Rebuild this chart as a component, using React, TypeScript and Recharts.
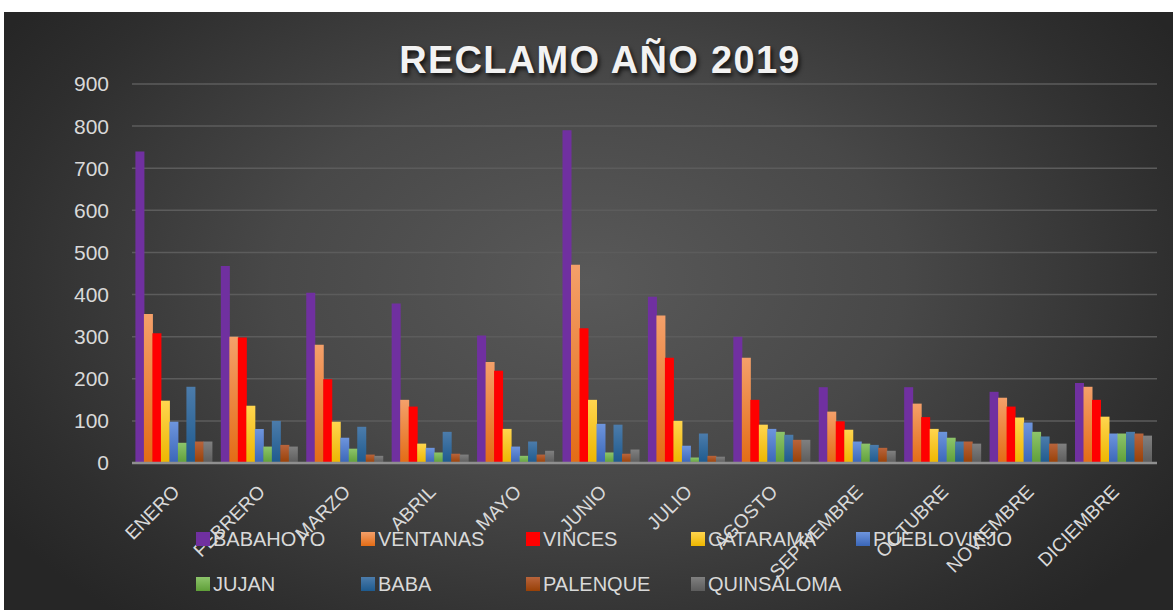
import * as React from "react";
import { BarChart, Bar, XAxis, YAxis, CartesianGrid } from "recharts";

const months = [
  "ENERO",
  "FEBRERO",
  "MARZO",
  "ABRIL",
  "MAYO",
  "JUNIO",
  "JULIO",
  "AGOSTO",
  "SEPTIEMBRE",
  "OCTUBRE",
  "NOVIEMBRE",
  "DICIEMBRE",
];

const babahoyo = [740, 468, 404, 379, 303, 790, 395, 300, 180, 180, 169, 190];
const ventanas = [354, 300, 281, 150, 240, 471, 350, 250, 122, 141, 155, 181];
const vinces = [308, 298, 199, 134, 219, 320, 250, 150, 99, 109, 134, 150];
const catarama = [148, 136, 98, 46, 81, 150, 100, 91, 79, 81, 108, 110];
const puebloviejo = [98, 81, 60, 36, 39, 93, 41, 81, 51, 74, 96, 70];
const jujan = [48, 39, 34, 25, 17, 25, 13, 74, 46, 60, 74, 70];
const baba = [181, 100, 86, 74, 51, 91, 70, 67, 43, 51, 63, 74];
const palenque = [51, 43, 20, 22, 20, 22, 17, 55, 36, 51, 46, 70];
const quinsaloma = [51, 39, 17, 20, 29, 32, 15, 55, 29, 46, 46, 65];

const yTicks = [0, 100, 200, 300, 400, 500, 600, 700, 800, 900];

type Series = { key: string; name: string; values: number[]; top: string; bottom: string };

const series: Series[] = [
  { key: "babahoyo", name: "BABAHOYO", values: babahoyo, top: "#7030A0", bottom: "#7030A0" },
  { key: "ventanas", name: "VENTANAS", values: ventanas, top: "#F4A06A", bottom: "#E36C15" },
  { key: "vinces", name: "VINCES", values: vinces, top: "#FF0000", bottom: "#FF0000" },
  { key: "catarama", name: "CATARAMA", values: catarama, top: "#FFD54F", bottom: "#EDB600" },
  { key: "puebloviejo", name: "PUEBLOVIEJO", values: puebloviejo, top: "#6E95DD", bottom: "#3A66B8" },
  { key: "jujan", name: "JUJAN", values: jujan, top: "#8DC46B", bottom: "#5F9F38" },
  { key: "baba", name: "BABA", values: baba, top: "#4C7CAB", bottom: "#1E5A8E" },
  { key: "palenque", name: "PALENQUE", values: palenque, top: "#B8643C", bottom: "#984006" },
  { key: "quinsaloma", name: "QUINSALOMA", values: quinsaloma, top: "#808080", bottom: "#5C5C5C" },
];

const rows = months.map((m, i) => {
  const row: Record<string, string | number> = { month: m };
  for (const s of series) row[s.key] = s.values[i]!;
  return row;
});

const FONT = "'Liberation Sans', Arial, sans-serif";
const TEXT = "#d9d9d9";

function MonthTick(props: any) {
  const { x, y, payload } = props;
  const tx = x + 6;
  const ty = y + 30;
  return (
    <text
      x={tx}
      y={ty}
      textAnchor="end"
      fill={TEXT}
      fontSize={19}
      fontFamily={FONT}
      transform={`rotate(-45 ${tx} ${ty})`}
    >
      {payload.value}
    </text>
  );
}

function LegendBox() {
  return (
    <div
      style={{
        position: "absolute",
        left: 192,
        top: 516,
        width: 840,
        display: "flex",
        flexWrap: "wrap",
        rowGap: 23,
        fontFamily: FONT,
        fontSize: 20,
        color: TEXT,
        pointerEvents: "none",
      }}
    >
      {series.map((s) => (
        <div key={s.key} style={{ width: 165, display: "flex", alignItems: "center", height: 22 }}>
          <span
            style={{
              display: "inline-block",
              width: 14,
              height: 14,
              marginRight: 3,
              background: `linear-gradient(${s.top}, ${s.bottom})`,
            }}
          />
          <span>{s.name}</span>
        </div>
      ))}
    </div>
  );
}

export default function App() {
  return (
    <div
      style={{
        position: "absolute",
        left: 4,
        top: 12,
        width: 1169,
        height: 598,
        background:
          "radial-gradient(ellipse 60% 75% at 50% 45%, #595959 0%, #484848 45%, #2e2e2e 85%, #262626 100%)",
        overflow: "hidden",
      }}
    >
      <div
        style={{
          position: "absolute",
          left: 0,
          top: 25,
          width: 1192,
          textAlign: "center",
          fontFamily: FONT,
          fontWeight: 700,
          fontSize: 38,
          letterSpacing: 1.3,
          color: "#f2f2f2",
          textShadow: "2px 3px 4px rgba(0,0,0,0.75)",
          lineHeight: "46px",
        }}
      >
        RECLAMO AÑO 2019
      </div>
      <BarChart
        width={1169}
        height={598}
        data={rows}
        margin={{ top: 72, right: 16, bottom: 87, left: 68 }}
        barCategoryGap="4%"
        barGap={-0.5}
      >
        <defs>
          {series.map((s) => (
            <linearGradient key={s.key} id={`g-${s.key}`} x1="0" y1="0" x2="0" y2="1">
              <stop offset="0%" stopColor={s.top} />
              <stop offset="100%" stopColor={s.bottom} />
            </linearGradient>
          ))}
        </defs>
        <CartesianGrid vertical={false} stroke="#5c5c5c" strokeWidth={1.5} />
        <XAxis
          dataKey="month"
          height={60}
          interval={0}
          tickLine={false}
          tickSize={0}
          tickMargin={0}
          axisLine={{ stroke: "#8f8f8f", strokeWidth: 2.5 }}
          tick={<MonthTick />}
        />
        <YAxis
          width={60}
          domain={[0, 900]}
          ticks={yTicks}
          interval={0}
          axisLine={false}
          tickLine={false}
          tickSize={0}
          tickMargin={23}
          tick={{ fill: TEXT, fontSize: 21, fontFamily: FONT }}
        />
        {series.map((s) => (
          <Bar
            key={s.key}
            dataKey={s.key}
            name={s.name}
            fill={`url(#g-${s.key})`}
            isAnimationActive={false}
          />
        ))}
      </BarChart>
      <LegendBox />
    </div>
  );
}
